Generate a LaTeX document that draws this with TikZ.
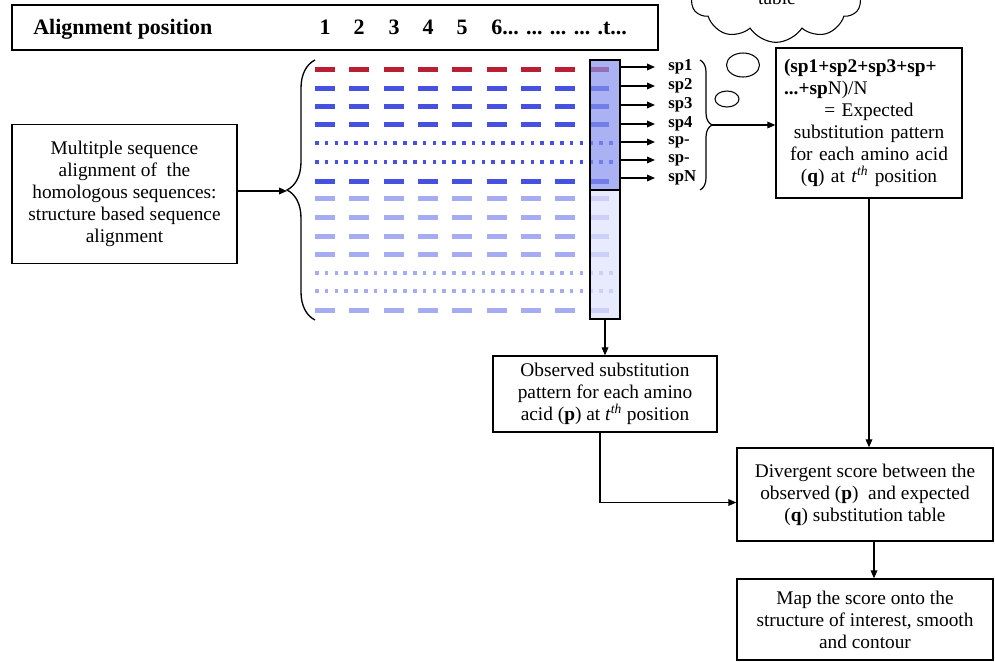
\documentclass[tikz,border=0pt]{standalone}
\usepackage{fontspec}
\setmainfont{Liberation Serif}
\usetikzlibrary{arrows.meta,shapes.symbols,shapes.geometric,decorations.pathreplacing,calc}

\definecolor{seqred}{RGB}{185,30,50}
\definecolor{seqblue}{RGB}{70,80,225}
\definecolor{seqpale}{RGB}{165,172,242}
\definecolor{colhi}{RGB}{135,145,238}
\definecolor{collo}{RGB}{222,225,252}

\newcommand\bodyfont{\fontsize{14.5pt}{16.5pt}\selectfont}
\newcommand\hdrfont{\fontsize{16.5pt}{19pt}\selectfont\bfseries}
\newcommand\spfont{\fontsize{12.5pt}{14pt}\selectfont\bfseries}

\tikzset{
  box/.style={draw, line width=1pt, align=center, font=\bodyfont, inner sep=0pt},
  arr/.style={line width=0.9pt, -{Triangle[length=6pt,width=5pt]}},
  splbl/.style={font=\spfont, anchor=west, inner sep=0pt},
  hdrtxt/.style={font=\hdrfont, inner sep=0pt},
  colbox/.style={draw, line width=1pt, fill opacity=0.7, minimum width=22.5pt, inner sep=0pt},
  bubble/.style={draw, ellipse, line width=0.8pt, inner sep=0pt},
}

\begin{document}
\begin{tikzpicture}[x=0.75pt,y=-0.75pt]
\useasboundingbox (0,0) rectangle (995,661);

% thought cloud and bubbles
\node[draw, cloud, cloud puffs=10, cloud puff arc=115, line width=0.8pt,
      minimum width=128pt, minimum height=68pt, aspect=2] (cloud) at (776,-3) {};
\node[font=\bodyfont, anchor=base, inner sep=0pt] (cloudtxt) at (777,4) {table};
\node[bubble, minimum width=24.75pt, minimum height=18pt] (bub1) at (743,65) {};
\node[bubble, minimum width=18pt, minimum height=12pt] (bub2) at (727,99) {};

% header with alignment positions
\node[draw, line width=1.3pt, minimum width=484.5pt, minimum height=33.75pt] (hdr) at (335,27.5) {};
\node[hdrtxt, anchor=base west] (hdrlbl) at (33,34) {Alignment position};
\foreach \n/\x in {1/325,2/359,3/394,4/428,5/462}
  \node[hdrtxt, anchor=base] (num\n) at (\x,34) {\n};
\node[hdrtxt, anchor=base west] (numt) at (491,34) {6... ... ... ... .t...};

% aligned sequences: dashed rows
\foreach \y/\c in {69/seqred,88/seqblue,106/seqblue,124/seqblue,181/seqblue,
                   198/seqpale,217/seqpale,236/seqpale,254/seqpale,310/seqpale}
  \foreach \k in {0,...,8}
    \fill[\c] ({315+34.3*\k},\y-2.5) rectangle ++(20,5);
% aligned sequences: dotted rows
\foreach \y/\c in {143/seqblue,162/seqblue,273/seqpale,291/seqpale}
  \foreach \k in {0,...,30}
    \fill[\c] ({315+9.8*\k},\y-1.75) rectangle ++(3.5,3.5);

% highlighted column t
\node[colbox, fill=colhi, minimum height=97.5pt] (colA) at (605,125) {};
\node[colbox, fill=collo, minimum height=96.75pt] (colB) at (605,254.5) {};

% column entries of each sequence
\foreach \i/\y/\t in {1/67/sp1,2/86/sp2,3/105/sp3,4/124/sp4,5/142/sp-,6/160/sp-,7/178/spN}{
  \node[splbl] (sp\i) at (668,\y) {\t};
  \draw[arr, shorten >=9.75pt] (colA.east |- sp\i.west) -- (sp\i.west);
}

% braces
\draw[line width=1pt, decorate, decoration={brace, amplitude=21pt}] (315,320) -- (315,60);
\coordinate (lbtip) at (287,191);
\draw[line width=0.9pt, decorate, decoration={brace, amplitude=9pt}] (700,60) -- (700,190);
\coordinate (rbtip) at (712,125);

% boxes
\node[box, minimum width=168.75pt, minimum height=104pt] (msa) at (124.5,194)
  {Multitple sequence\\alignment of\ \ the\\homologous sequences:\\structure based sequence\\alignment};

\node[box, minimum width=139.5pt, minimum height=112.5pt, text width=127.5pt] (exp) at (869,123)
  {\makebox[\linewidth][l]{\textbf{(sp1+sp2+sp3+sp+}}\\
   \makebox[\linewidth][l]{\textbf{...+sp}N)/N}\\
   = Expected\\substitution pattern\\for each amino acid\\
   (\textbf{q}) at \textit{t}\textsuperscript{\textit{th}} position};

\node[box, minimum width=168pt, minimum height=57pt] (obs) at (605,394)
  {Observed substitution\\pattern for each amino\\acid (\textbf{p}) at \textit{t}\textsuperscript{\textit{th}} position};

\node[box, minimum width=192pt, minimum height=69.75pt] (div) at (865,494.5)
  {Divergent score between the\\observed (\textbf{p})\ \ and expected\\(\textbf{q}) substitution table};

\node[box, minimum width=192pt, minimum height=60.75pt] (map) at (865,619.5)
  {Map the score onto the\\structure of interest, smooth\\and contour};

% connectors
\draw[arr] (msa.east |- lbtip) -- (lbtip);
\draw[arr] (rbtip) -- (rbtip -| exp.west);
\draw[arr] (colB.south) -- (obs.north);
\draw[arr] (exp.south) -- (exp.south |- div.north);
\draw[arr] ($(div.south)+(9,0)$) -- ($(map.north)+(9,0)$);
\draw[arr] ($(obs.south)+(-5,0)$) |- ($(div.west)+(0,8)$);
\end{tikzpicture}
\end{document}
